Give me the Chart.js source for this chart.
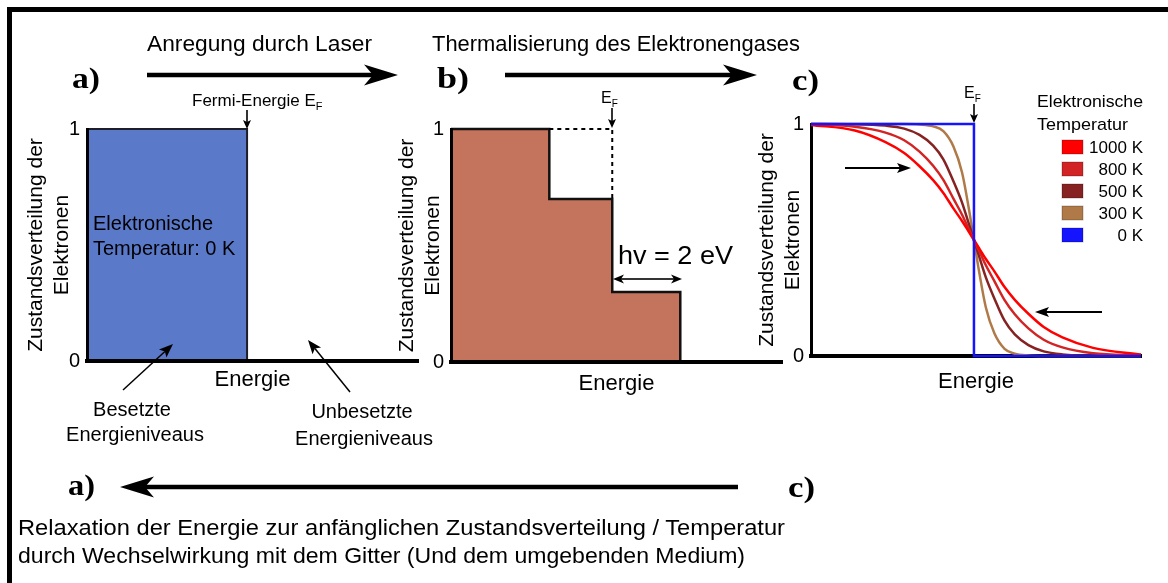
<!DOCTYPE html>
<html lang="de">
<head>
  <meta charset="UTF-8">
  <title>Anregung, Thermalisierung und Relaxation des Elektronengases</title>
  <script src="https://cdn.jsdelivr.net/npm/chart.js"></script>
  <style>
    html, body { margin: 0; padding: 0; background: #fff; }
    #stage { position: relative; width: 1168px; height: 583px; overflow: hidden; }
    #stage canvas { position: absolute; }
    #overlay { position: absolute; left: 0; top: 0; }
    #overlay text { font-family: 'Liberation Sans', Arial, sans-serif; fill: #000; }
    #overlay text.panel { font-family: 'Liberation Serif', 'Times New Roman', serif; font-weight: bold; }
  </style>
</head>
<body>
<div id="stage">
  <canvas id="chartA" width="405" height="292" style="left:19px;top:109px"></canvas>
  <canvas id="chartB" width="398" height="293" style="left:390px;top:109px"></canvas>
  <canvas id="chartC" width="397" height="292" style="left:750px;top:104px"></canvas>

  <svg id="overlay" width="1168" height="583">
    <!-- Rahmen -->
    <line x1="7" y1="9.5" x2="1168" y2="9.5" stroke="#000" stroke-width="5"/>
    <line x1="9.5" y1="7" x2="9.5" y2="583" stroke="#000" stroke-width="5"/>

    <text x="147" y="51" font-size="22" textLength="225" lengthAdjust="spacingAndGlyphs">Anregung durch Laser</text>
    <text x="432" y="51" font-size="22" textLength="368" lengthAdjust="spacingAndGlyphs">Thermalisierung des Elektronengases</text>

    <text class="panel" x="72" y="88" font-size="30" textLength="28" lengthAdjust="spacingAndGlyphs">a)</text>
    <text class="panel" x="437" y="88" font-size="30" textLength="32" lengthAdjust="spacingAndGlyphs">b)</text>
    <text class="panel" x="792" y="90" font-size="30" textLength="27" lengthAdjust="spacingAndGlyphs">c)</text>
    <text class="panel" x="68" y="495" font-size="30" textLength="27" lengthAdjust="spacingAndGlyphs">a)</text>
    <text class="panel" x="788" y="497" font-size="30" textLength="27" lengthAdjust="spacingAndGlyphs">c)</text>

    <text x="192" y="106" font-size="17">Fermi-Energie E<tspan font-size="11" dy="4">F</tspan></text>
    <text x="601" y="103" font-size="16">E<tspan font-size="10" dy="4">F</tspan></text>
    <text x="964" y="98" font-size="16">E<tspan font-size="10" dy="4">F</tspan></text>

    <text x="93" y="230" font-size="20">Elektronische</text>
    <text x="93" y="255" font-size="20">Temperatur: 0 K</text>

    <text x="132" y="416" font-size="20" text-anchor="middle">Besetzte</text>
    <text x="135" y="441" font-size="20" text-anchor="middle">Energieniveaus</text>
    <text x="362" y="418" font-size="20" text-anchor="middle">Unbesetzte</text>
    <text x="364" y="445" font-size="20" text-anchor="middle">Energieniveaus</text>

    <text x="618" y="264" font-size="26" textLength="115" lengthAdjust="spacingAndGlyphs">hv = 2 eV</text>

    <text x="1037" y="107" font-size="17" textLength="106" lengthAdjust="spacingAndGlyphs">Elektronische</text>
    <text x="1037" y="130" font-size="17" textLength="91" lengthAdjust="spacingAndGlyphs">Temperatur</text>
    <g id="legendC"></g>

    <text x="18" y="535" font-size="22" textLength="767" lengthAdjust="spacingAndGlyphs">Relaxation der Energie zur anfänglichen Zustandsverteilung / Temperatur</text>
    <text x="18" y="563" font-size="22" textLength="727" lengthAdjust="spacingAndGlyphs">durch Wechselwirkung mit dem Gitter (Und dem umgebenden Medium)</text>

    <g id="arrows"></g>
  </svg>
</div>

<script>
  // Energie relativ zur Fermi-Energie (eV), Besetzung 0..1
  const yTicks = [0, 1];

  // a) 0 K, vor der Anregung
  const energyA = [-4.71, 0, 0, 5.03];
  const occupancyA = [1, 1, 0, 0];

  // b) direkt nach der Anregung (hv = 2 eV)
  const energyB = [-4.74, -1.85, -1.85, 0, 0, 2, 2, 4.99];
  const occupancyB = [1, 1, 0.7, 0.7, 0.3, 0.3, 0, 0];
  const energyBDashed = [-1.85, 0, 0];
  const occupancyBDashed = [1, 1, 0.7];

  // c) Fermi-Verteilungen
  const energyC = [-4.79, -3.5, -2.6, -2.05, -1.6, -1.2, -0.9, -0.6, -0.35, -0.15, 0,
                   0.15, 0.35, 0.6, 0.9, 1.2, 1.6, 2.05, 2.6, 3.5, 4.91];
  const fermi1000 = [0.996, 0.972, 0.922, 0.875, 0.818, 0.758, 0.703, 0.635, 0.582, 0.535, 0.5,
                     0.465, 0.418, 0.365, 0.297, 0.242, 0.182, 0.125, 0.080, 0.035, 0.006];
  const fermi800 = [0.999, 0.988, 0.963, 0.930, 0.881, 0.820, 0.759, 0.677, 0.609, 0.546, 0.5,
                    0.454, 0.391, 0.323, 0.241, 0.180, 0.119, 0.070, 0.037, 0.012, 0.002];
  const fermi500 = [1.000, 0.999, 0.993, 0.980, 0.953, 0.907, 0.848, 0.752, 0.661, 0.569, 0.5,
                    0.431, 0.339, 0.248, 0.152, 0.093, 0.047, 0.020, 0.007, 0.001, 0.000];
  const fermi300 = [1.000, 1.000, 1.000, 1.000, 0.998, 0.990, 0.969, 0.902, 0.791, 0.635, 0.5,
                    0.365, 0.209, 0.098, 0.031, 0.010, 0.002, 0.000, 0.000, 0.000, 0.000];
  const energyC0 = [-4.79, 0, 0, 4.91];
  const fermi0 = [1, 1, 0, 0];

  const tempLabels = ['1000 K', '800 K', '500 K', '300 K', '0 K'];
  const tempColors = ['#ff0000', '#d22424', '#862222', '#b07a48', '#1414ff'];

  const yTitle = ['Zustandsverteilung der', 'Elektronen'];

  Chart.defaults.font.family = "'Liberation Sans', Arial, sans-serif";
  Chart.defaults.color = '#000';

  const pts = (xs, ys) => xs.map((x, i) => ({ x: x, y: ys[i] }));

  function panelOptions(xMin, xMax, yWidth, energyPad, borderZ) {
    return {
      responsive: false,
      animation: false,
      layout: { padding: { top: 20, right: 6, left: 0, bottom: 0 } },
      plugins: { legend: { display: false }, tooltip: { enabled: false } },
      elements: { point: { radius: 0 } },
      scales: {
        x: {
          type: 'linear', min: xMin, max: xMax,
          grid: { display: false, drawTicks: false },
          ticks: { display: false },
          border: { display: true, color: '#000', width: 4, z: borderZ },
          title: { display: true, text: 'Energie', font: { size: 22 }, padding: { top: 0, bottom: energyPad } },
          afterFit: s => { s.height = 40; }
        },
        y: {
          type: 'linear', min: 0, max: 1,
          grid: { display: false, drawTicks: false },
          ticks: { font: { size: 20 }, padding: 7 },
          afterBuildTicks: s => { s.ticks = yTicks.map(v => ({ value: v })); },
          border: { display: true, color: '#000', width: 3, z: borderZ },
          title: { display: true, text: yTitle, font: { size: 21, lineHeight: 1.24 }, padding: { top: 4, bottom: 0 } },
          afterFit: s => { s.width = yWidth; }
        }
      }
    };
  }

  new Chart(document.getElementById('chartA'), {
    type: 'line',
    data: {
      datasets: [{
        data: pts(energyA, occupancyA),
        borderColor: '#1e1e28', borderWidth: 2,
        backgroundColor: '#5b79c9', fill: 'origin', clip: 3
      }]
    },
    options: panelOptions(energyA[0], energyA[energyA.length - 1], 68, 8, 1)
  });

  new Chart(document.getElementById('chartB'), {
    type: 'line',
    data: {
      datasets: [{
        data: pts(energyBDashed, occupancyBDashed),
        borderColor: '#000', borderWidth: 2, borderDash: [4, 4], fill: false, clip: 3
      }, {
        data: pts(energyB, occupancyB),
        borderColor: '#111', borderWidth: 2.5,
        backgroundColor: '#c4735d', fill: 'origin', clip: 3
      }]
    },
    options: panelOptions(energyB[0], energyB[energyB.length - 1], 61, 5, 1)
  });

  const fermiSeries = [fermi1000, fermi800, fermi500, fermi300];
  const datasetsC = fermiSeries.map((ys, i) => ({
    label: tempLabels[i],
    data: pts(energyC, ys),
    borderColor: tempColors[i],
    borderWidth: 2.5,
    cubicInterpolationMode: 'monotone',
    fill: false,
    clip: 3
  }));
  datasetsC.push({
    label: tempLabels[4],
    data: pts(energyC0, fermi0),
    borderColor: tempColors[4],
    borderWidth: 2.5,
    fill: false,
    clip: 3,
    order: -1
  });

  new Chart(document.getElementById('chartC'), {
    type: 'line',
    data: { datasets: datasetsC },
    options: panelOptions(energyC0[0], energyC0[energyC0.length - 1], 61, 1, 0)
  });

  // Legende für c)
  const NS = 'http://www.w3.org/2000/svg';
  const legend = document.getElementById('legendC');
  tempLabels.forEach((lab, i) => {
    const cy = 147 + i * 22;
    const r = document.createElementNS(NS, 'rect');
    r.setAttribute('x', 1062); r.setAttribute('y', cy - 7);
    r.setAttribute('width', 21); r.setAttribute('height', 14);
    r.setAttribute('fill', tempColors[i]);
    r.setAttribute('stroke', 'rgba(0,0,0,0.25)');
    legend.appendChild(r);
    const t = document.createElementNS(NS, 'text');
    t.setAttribute('x', 1143); t.setAttribute('y', cy + 6);
    t.setAttribute('font-size', 17); t.setAttribute('text-anchor', 'end');
    t.textContent = lab;
    legend.appendChild(t);
  });

  // Pfeile
  const arrowLayer = document.getElementById('arrows');
  function arrow(x1, y1, x2, y2, w, len, half, notch) {
    const dx = x2 - x1, dy = y2 - y1, L = Math.hypot(dx, dy);
    const ux = dx / L, uy = dy / L, px = -uy, py = ux;
    const bx = x2 - ux * len, by = y2 - uy * len;
    const nx = x2 - ux * (len - notch), ny = y2 - uy * (len - notch);
    const ln = document.createElementNS(NS, 'line');
    ln.setAttribute('x1', x1); ln.setAttribute('y1', y1);
    ln.setAttribute('x2', nx); ln.setAttribute('y2', ny);
    ln.setAttribute('stroke', '#000'); ln.setAttribute('stroke-width', w);
    arrowLayer.appendChild(ln);
    const head = document.createElementNS(NS, 'polygon');
    head.setAttribute('points', [
      [x2, y2], [bx + px * half, by + py * half], [nx, ny], [bx - px * half, by - py * half]
    ].map(p => p.join(',')).join(' '));
    head.setAttribute('fill', '#000');
    arrowLayer.appendChild(head);
  }

  arrow(147, 75, 398, 75, 4.5, 34, 10.5, 9);
  arrow(505, 75, 757, 75, 4.5, 34, 10.5, 9);
  arrow(738, 487, 120, 487, 4.5, 34, 10.5, 9);

  arrow(247, 110, 247, 129, 1.6, 9, 4, 2);
  arrow(612, 108, 612, 128, 1.6, 9, 4, 2);
  arrow(974, 104, 974, 123, 1.6, 9, 4, 2);

  arrow(123, 390, 173, 344, 1.5, 14, 5.5, 3);
  arrow(350, 392, 308, 340, 1.5, 14, 5.5, 3);

  arrow(647, 279, 613, 279, 1.6, 11, 4.5, 3);
  arrow(647, 279, 682, 279, 1.6, 11, 4.5, 3);

  arrow(845, 168, 911, 168, 1.8, 14, 5, 3);
  arrow(1102, 312, 1035, 312, 1.8, 14, 5, 3);
</script>
</body>
</html>
